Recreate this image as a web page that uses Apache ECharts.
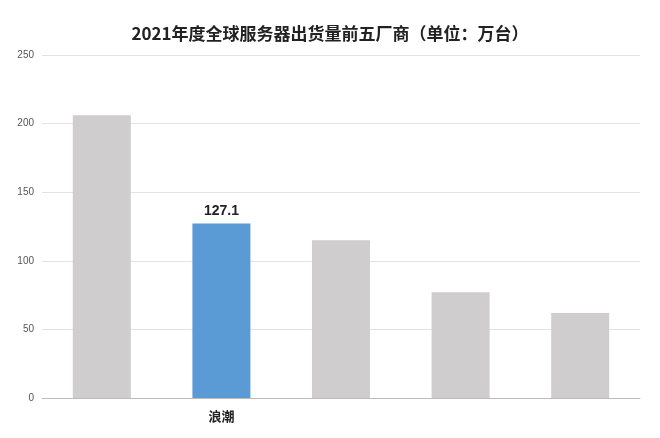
<!DOCTYPE html>
<html><head><meta charset="utf-8">
<script src="https://cdn.jsdelivr.net/npm/echarts@6/dist/echarts.min.js"></script>
<style>html,body{margin:0;padding:0;background:#fff}#c{width:660px;height:438px}</style>
</head><body><div id="c"></div>
<script>
const categories = ['', '浪潮', '', '', ''];
const values = [206, 127.1, 115, 77, 62];
const highlight = 1;
const chart = echarts.init(document.getElementById('c'));
chart.setOption({
  animation: false,
  title: { text: '2021年度全球服务器出货量前五厂商（单位：万台）', left: 'center', top: 20,
    textStyle: { fontSize: 17, fontWeight: 'bold', color: '#222', fontFamily: 'Noto Sans CJK SC' } },
  grid: { left: 42, right: 20, top: 55, bottom: 40 },
  xAxis: { type: 'category', data: categories,
    axisLine: { lineStyle: { color: '#bbb' } }, axisTick: { show: false },
    axisLabel: { fontSize: 13, fontWeight: 'bold', color: '#222', margin: 12, fontFamily: 'Noto Sans CJK SC' } },
  yAxis: { type: 'value', min: 0, max: 250, interval: 50,
    axisLabel: { fontSize: 10, color: '#555' },
    splitLine: { lineStyle: { color: '#e3e3e3' } } },
  series: [{ type: 'bar', barWidth: 58,
    data: values.map((v, i) => ({ value: v,
      itemStyle: { color: i === highlight ? '#5b9bd5' : '#cfcdce' },
      label: { show: i === highlight, position: 'top', fontSize: 14, fontWeight: 'bold', color: '#222' } })) }]
});
</script></body></html>
